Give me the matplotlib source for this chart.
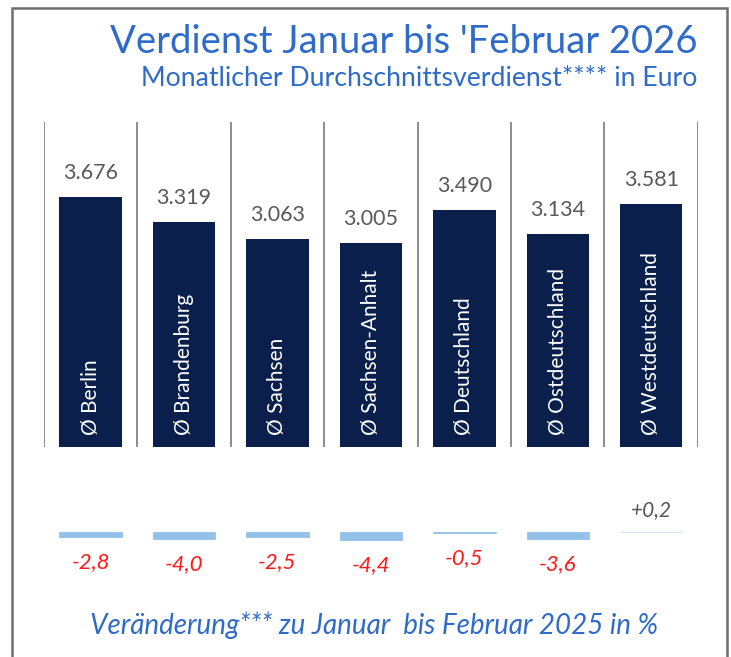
import matplotlib.pyplot as plt
from matplotlib.patches import Rectangle

plt.rcParams['font.family'] = ['Lato', 'DejaVu Sans']

# Daten
regionen = ['Ø Berlin', 'Ø Brandenburg', 'Ø Sachsen', 'Ø Sachsen-Anhalt',
            'Ø Deutschland', 'Ø Ostdeutschland', 'Ø Westdeutschland']
verdienst = [3676, 3319, 3063, 3005, 3490, 3134, 3581]
veraenderung = [-2.8, -4.0, -2.5, -4.4, -0.5, -3.6, 0.2]

navy = '#0a1f4b'
blau = '#2f6bc9'
hellblau = '#93c1e9'

W, H = 731, 657
fig = plt.figure(figsize=(W / 100, H / 100), dpi=100)

# Rahmen
fig.patches.append(Rectangle((12 / W, -0.05), 715 / W, 1.05 - 8 / H,
                             transform=fig.transFigure, fill=False,
                             edgecolor='#6e6e6e', lw=1.8))

x = list(range(len(regionen)))

# obere Achse: Verdienst
ax = fig.add_axes([43.8 / W, (H - 446.7) / H, 654.1 / W, 325 / H])
ax.bar(x, verdienst, width=0.668, color=navy)
ax.set_xlim(-0.5, 6.5)
ax.set_ylim(0, 325 / 0.06785)
for i in range(len(regionen) + 1):
    ax.axvline(i - 0.5, color='#8c8c8c', lw=1.4)
ax.axis('off')

for i, v in enumerate(verdienst):
    ax.annotate(f'{v:,}'.replace(',', '.'), (i, v), xytext=(0, 24),
                textcoords='offset pixels', ha='center', va='center',
                fontsize=15.5, color='#595959')
    ax.annotate(regionen[i], (i, 0), xytext=(0, 12), textcoords='offset pixels',
                rotation=90, ha='center', va='bottom', fontsize=15,
                color='white')

# untere Achse: Veränderung
ax2 = fig.add_axes([43.8 / W, (H - 580) / H, 654.1 / W, 90 / H])
farben = [hellblau if d < 0 else '#d3e1ee' for d in veraenderung]
ax2.bar(x, veraenderung, width=0.668, color=farben, edgecolor=farben, lw=0.6)
ax2.set_xlim(-0.5, 6.5)
ax2.set_ylim(-48 / 1.85, 42 / 1.85)
ax2.axis('off')
for i, d in enumerate(veraenderung):
    if d < 0:
        ax2.annotate(f'{d:.1f}'.replace('.', ','), (i, d), xytext=(0, -25),
                     textcoords='offset pixels', ha='center', va='center',
                     fontsize=16, style='italic', color='#ff1a1a')
    else:
        ax2.annotate(f'+{d:.1f}'.replace('.', ','), (i, d), xytext=(0, 22),
                     textcoords='offset pixels', ha='center', va='center',
                     fontsize=15, style='italic', color='#555555')

# Texte
fig.text(697 / W, 1 - 42 / H, "Verdienst Januar bis 'Februar 2026",
         ha='right', va='center', fontsize=27.5, color=blau)
fig.text(697 / W, 1 - 78 / H, 'Monatlicher Durchschnittsverdienst**** in Euro',
         ha='right', va='center', fontsize=19.2, color=blau)
fig.text(374.5 / W, 1 - 625 / H, 'Veränderung*** zu Januar  bis Februar 2025 in %',
         ha='center', va='center', fontsize=20, style='italic', color=blau)

fig.savefig('out.png', dpi=100, facecolor='white')
